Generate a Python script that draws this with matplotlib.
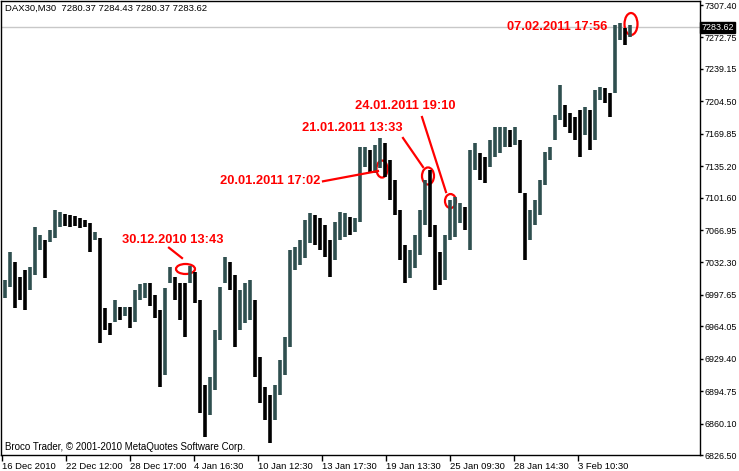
import matplotlib
matplotlib.use('Agg')
from matplotlib import pyplot as plt
from matplotlib.patches import Ellipse
import numpy as np

symbol = 'DAX30,M30'
last_ohlc = [7280.37, 7284.43, 7280.37, 7283.62]

# high / low of each group of five M30 bars
highs = [
    7013.5, 7043.4, 7032.7, 7016.7, 7024.2, 7027.4, 7070.2, 7061.6, 7056.3, 7066.9,
    7088.3, 7086.2, 7084.0, 7083.0, 7081.9, 7079.8, 7077.6, 7074.4, 7064.8, 7058.4,
    6983.6, 6967.6, 6992.1, 6984.7, 6984.7, 6984.7, 7002.8, 7009.2, 7010.3, 7010.3,
    6997.5, 6981.4, 7005.0, 7027.4, 7016.7, 7010.3, 7010.3, 7028.5, 7022.1, 6992.1,
    6901.3, 6909.8, 6960.1, 7006.0, 7038.1, 7032.7, 7018.9, 7002.8, 7010.3, 7013.5,
    6992.1, 6931.2, 6899.2, 6890.6, 6901.3, 6928.0, 6952.6, 7045.6, 7048.8, 7056.3,
    7077.6, 7085.1, 7083.0, 7079.8, 7072.3, 7056.3, 7075.5, 7086.2, 7085.1, 7080.8,
    7079.8, 7155.6, 7155.6, 7152.4, 7157.8, 7165.3, 7159.9, 7141.8, 7120.4, 7088.3,
    7050.9, 7045.6, 7061.6, 7088.3, 7120.4, 7131.1, 7072.3, 7043.4, 7061.6, 7099.0,
    7102.2, 7095.8, 7091.5, 7152.4, 7159.9, 7149.2, 7145.0, 7163.1, 7177.0, 7177.0,
    7177.0, 7173.8, 7177.0, 7163.1, 7106.5, 7088.3, 7099.0, 7120.4, 7150.3, 7155.6,
    7189.8, 7221.9, 7200.5, 7192.0, 7187.7, 7195.2, 7198.4, 7195.2, 7216.6, 7219.8,
    7218.7, 7213.4, 7286.0, 7288.2, 7282.8, 7286.0,
]
lows = [
    6994.3, 7006.0, 6983.6, 6992.1, 6981.4, 7002.8, 7018.9, 7045.6, 7015.6, 7054.1,
    7058.4, 7070.2, 7071.2, 7070.2, 7071.2, 7069.1, 7070.2, 7043.4, 7056.3, 6946.2,
    6960.1, 6954.7, 6968.6, 6970.8, 6975.0, 6962.2, 6968.6, 6992.1, 6994.3, 6985.7,
    6972.9, 6899.2, 6912.0, 7010.3, 6992.1, 6970.8, 6952.6, 7010.3, 6988.9, 6871.4,
    6845.7, 6869.2, 6895.9, 6949.4, 7010.3, 7002.8, 6941.9, 6960.1, 6967.6, 6970.8,
    6909.8, 6882.1, 6863.9, 6839.3, 6863.9, 6890.6, 6912.0, 6941.9, 7024.2, 7029.5,
    7037.0, 7053.1, 7050.9, 7045.6, 7038.1, 7016.7, 7034.9, 7056.3, 7059.5, 7061.6,
    7064.8, 7075.5, 7134.3, 7128.9, 7127.9, 7133.2, 7123.6, 7099.0, 7083.0, 7034.9,
    7010.3, 7015.6, 7026.3, 7040.2, 7072.3, 7059.5, 7002.8, 7008.2, 7013.5, 7056.3,
    7059.5, 7074.4, 7066.9, 7045.6, 7131.1, 7120.4, 7117.2, 7134.3, 7145.0, 7149.2,
    7155.6, 7155.6, 7157.8, 7106.5, 7034.9, 7056.3, 7072.3, 7083.0, 7115.0, 7141.8,
    7163.1, 7184.5, 7177.0, 7170.6, 7163.1, 7145.0, 7168.5, 7152.4, 7163.1, 7205.9,
    7202.7, 7187.7, 7213.4, 7270.0, 7264.6, 7273.2,
]

time_labels = ['16 Dec 2010', '22 Dec 12:00', '28 Dec 17:00', '4 Jan 16:30', '10 Jan 12:30',
               '13 Jan 17:30', '19 Jan 13:30', '25 Jan 09:30', '28 Jan 14:30', '3 Feb 10:30']
price_ticks = [7307.40, 7272.75, 7239.15, 7204.50, 7169.85, 7135.20, 7101.60, 7066.95,
               7032.30, 6997.65, 6964.05, 6929.40, 6894.75, 6860.10, 6826.50]

# marked moments: label, text pos, ellipse centre/size, pointer line (or None)
notes = [
    ('30.12.2010 13:43', (121, 7056.3), (184.5, 7025.3, 19, 10.7), ((168, 7048.0), (181, 7037.0))),
    ('20.01.2011 17:02', (219, 7119.3), (381, 7132.1, 11, 18.2), ((322, 7119.0), (377, 7130.0))),
    ('21.01.2011 13:33', (301, 7175.9), (427, 7124.7, 12, 18.2), ((402, 7165.3), (422, 7134.3))),
    ('24.01.2011 19:10', (354, 7199.5), (449.5, 7097.9, 11, 15.0), ((421, 7187.7), (445, 7107.5))),
    ('07.02.2011 17:56', (506, 7283.9), (630, 7287.1, 13, 23.5), None),
]

W, H = 739, 471
fig = plt.figure(figsize=(W / 100, H / 100), dpi=100)
ax = fig.add_axes([1 / W, 1 - 455 / H, 699 / W, 454 / H])
font = 'Liberation Sans'
small = 6.8

x = np.arange(len(highs)) * 5 + 3.5
hi = np.array(highs)
lo = np.array(lows)
mid = (hi + lo) / 2
cols = ['#2f4f4f' if i == 0 or mid[i] >= mid[i - 1] else '#000000' for i in range(len(mid))]
ax.vlines(x, lo, hi, colors=cols, linewidth=2.6)

ax.axhline(last_ohlc[3], color='#c8c8c8', linewidth=1, zorder=0)

ax.set_xlim(0, 699)
ax.set_ylim(6826.5, 7311.7)

ax.set_xticks([1 + 64 * k for k in range(len(time_labels))])
ax.set_xticklabels(time_labels, fontsize=small, family=font)
for lab in ax.get_xticklabels():
    lab.set_horizontalalignment('left')
ax.tick_params(axis='x', direction='out', length=4, width=1, pad=1)

ax.yaxis.tick_right()
ax.set_yticks(price_ticks)
ax.set_yticklabels(['%.2f' % p for p in price_ticks], fontsize=6.4, family=font)
ax.tick_params(axis='y', direction='out', length=2.5, width=1, pad=1)

for s in ax.spines.values():
    s.set_linewidth(1)
    s.set_color('black')

# current price box on the price scale
ax.text(1.002, last_ohlc[3], '%.2f' % last_ohlc[3], transform=ax.get_yaxis_transform(),
        fontsize=6.4, family=font, color='white', va='center', ha='left',
        bbox=dict(boxstyle='square,pad=0.12', fc='black', ec='black'), clip_on=False, zorder=5)

fig.text(5 / W, 1 - 8 / H, symbol + '  ' + ' '.join('%.2f' % v for v in last_ohlc),
         fontsize=small, family=font, va='center', ha='left')
fig.text(5 / W, 1 - 447 / H, 'Broco Trader, © 2001-2010 MetaQuotes Software Corp.',
         fontsize=7, family=font, va='center', ha='left')

for label, (tx, ty), (ex, ey, ew, eh), line in notes:
    ax.text(tx, ty, label, color='red', fontsize=9.3, fontweight='bold', family=font,
            va='center', ha='left')
    ax.add_patch(Ellipse((ex, ey), ew, eh, fill=False, edgecolor='red', linewidth=1.6))
    if line is not None:
        (x0, y0), (x1, y1) = line
        ax.plot([x0, x1], [y0, y1], color='red', linewidth=1.6)

fig.savefig('out.png', dpi=100)
